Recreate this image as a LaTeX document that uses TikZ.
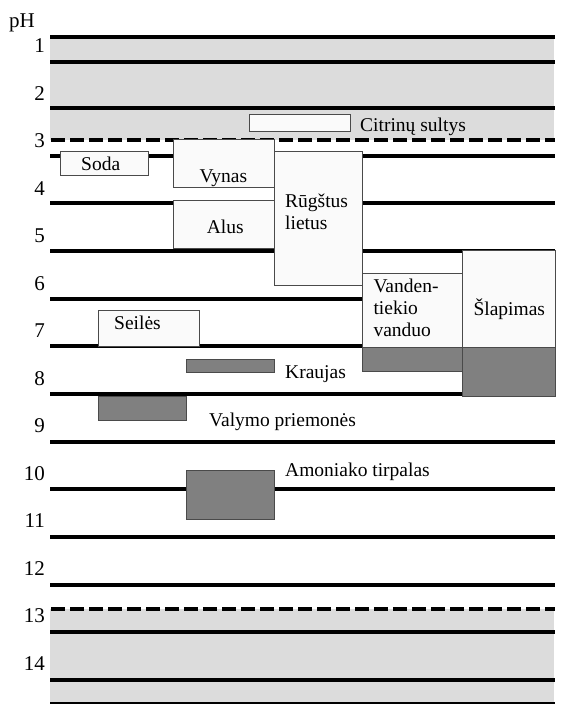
\documentclass[tikz,border=0pt]{standalone}
\usepackage{fontspec}
\setmainfont{Liberation Serif}
\definecolor{bandgray}{HTML}{DCDCDC}
\definecolor{boxwhite}{HTML}{FAFAFA}
\definecolor{boxgray}{HTML}{808080}
\definecolor{boxedge}{HTML}{4A4A4A}
\begin{document}
\begin{tikzpicture}[x=1pt,y=-1pt,
  phline/.style={line width=4pt},
  phdash/.style={line width=4pt, dash pattern=on 14pt off 5pt},
  wbox/.style={draw=boxedge, line width=0.8pt, fill=boxwhite},
  gbox/.style={draw=boxedge, line width=0.8pt, fill=boxgray},
  lbl/.style={font=\fontsize{19.5}{22}\selectfont, inner sep=0pt, anchor=base west, align=left},
  num/.style={font=\fontsize{21}{23}\selectfont, inner sep=0pt, anchor=east}]
\useasboundingbox (0,0) rectangle (560,704);
% gray bands
\fill[bandgray] (50,37) rectangle (554,140);
\fill[bandgray] (50,609) rectangle (554,704);
% pH lines
\foreach \yy in {37.3,61.7,108.3,156,203.3,251,299.3,346,394.3,442.3,489.3,536.7,585,632.3,680.3}
  \draw[phline] (50,\yy) -- (555,\yy);
\draw[phdash] (51,140) -- (555,140);
\draw[phdash] (51,609) -- (555,609);
\draw[line width=3pt] (50,703) -- (555,703);
% boxes
\draw[wbox] (249.3,114.3) rectangle (350,131);
\draw[wbox] (60.3,151) rectangle (148.7,175);
\draw[wbox] (173.7,139.3) rectangle (274,187.3);
\draw[wbox] (173.7,200) rectangle (274,248.5);
\draw[wbox] (274.3,151) rectangle (362.3,285.7);
\draw[wbox] (362.3,273.3) rectangle (462.7,347.3);
\draw[gbox] (362.3,347.3) rectangle (462.7,371.7);
\draw[wbox] (462.7,250) rectangle (555,347.3);
\draw[gbox] (462.7,347.3) rectangle (555,396);
\draw[wbox] (98.3,310.3) rectangle (199,346.5);
\draw[gbox] (186,359.3) rectangle (274.3,372.3);
\draw[gbox] (98.3,396.7) rectangle (186,420.7);
\draw[gbox] (186,470) rectangle (274.3,519);
% labels
\node[font=\fontsize{21}{23}\selectfont, inner sep=0pt] (ph) at (22,23) {pH};
\foreach \k in {1,...,14}
  \node[num] (n\k) at (45,{46+47.5*(\k-1)}) {\k};
\node[lbl] (citr) at (360,131) {Citrinų sultys};
\node[lbl] (soda) at (81,170) {Soda};
\node[lbl] (vynas) at (199.3,182.7) {Vynas};
\node[lbl] (alus) at (206.7,233.5) {Alus};
\node[lbl] (rug) at (285,229.3) {Rūgštus\\lietus};
\node[lbl] (vand) at (373.3,336) {Vanden-\\tiekio\\vanduo};
\node[lbl] (slap) at (473.3,315) {Šlapimas};
\node[lbl] (seil) at (114,329) {Seilės};
\node[lbl] (krau) at (285,378) {Kraujas};
\node[lbl] (valy) at (209,426.7) {Valymo priemonės};
\node[lbl] (amon) at (285,476.7) {Amoniako tirpalas};
\end{tikzpicture}
\end{document}
